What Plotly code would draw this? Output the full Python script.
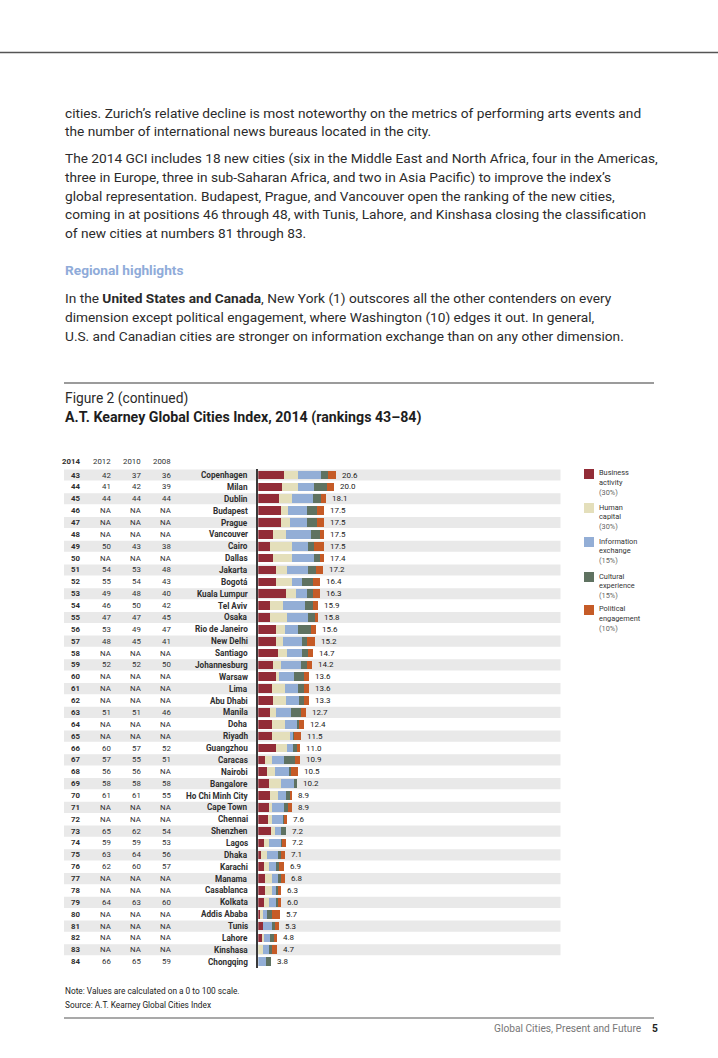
import plotly.graph_objects as go

W, H = 718, 1058

# ---------------- data ----------------
ranks = list(range(43, 85))
cities = ["Copenhagen", "Milan", "Dublin", "Budapest", "Prague", "Vancouver", "Cairo", "Dallas",
          "Jakarta", "Bogotá", "Kuala Lumpur", "Tel Aviv", "Osaka", "Rio de Janeiro", "New Delhi",
          "Santiago", "Johannesburg", "Warsaw", "Lima", "Abu Dhabi", "Manila", "Doha", "Riyadh",
          "Guangzhou", "Caracas", "Nairobi", "Bangalore", "Ho Chi Minh City", "Cape Town", "Chennai",
          "Shenzhen", "Lagos", "Dhaka", "Karachi", "Manama", "Casablanca", "Kolkata", "Addis Ababa",
          "Tunis", "Lahore", "Kinshasa", "Chongqing"]
rank_2012 = ["42", "41", "44", "NA", "NA", "NA", "50", "NA", "54", "55", "49", "46", "47", "53", "48",
             "NA", "52", "NA", "NA", "NA", "51", "NA", "NA", "60", "57", "56", "58", "61", "NA", "NA",
             "65", "59", "63", "62", "NA", "NA", "64", "NA", "NA", "NA", "NA", "66"]
rank_2010 = ["37", "42", "44", "NA", "NA", "NA", "43", "NA", "53", "54", "48", "50", "47", "49", "45",
             "NA", "52", "NA", "NA", "NA", "51", "NA", "NA", "57", "55", "56", "58", "61", "NA", "NA",
             "62", "59", "64", "60", "NA", "NA", "63", "NA", "NA", "NA", "NA", "65"]
rank_2008 = ["36", "39", "44", "NA", "NA", "NA", "38", "NA", "48", "43", "40", "42", "45", "47", "41",
             "NA", "50", "NA", "NA", "NA", "46", "NA", "NA", "52", "51", "NA", "58", "55", "NA", "NA",
             "54", "53", "56", "57", "NA", "NA", "60", "NA", "NA", "NA", "NA", "59"]
scores = [20.6, 20.0, 18.1, 17.5, 17.5, 17.5, 17.5, 17.4, 17.2, 16.4, 16.3, 15.9, 15.8, 15.6, 15.2,
          14.7, 14.2, 13.6, 13.6, 13.3, 12.7, 12.4, 11.5, 11.0, 10.9, 10.5, 10.2, 8.9, 8.9, 7.6,
          7.2, 7.2, 7.1, 6.9, 6.8, 6.3, 6.0, 5.7, 5.3, 4.8, 4.7, 3.8]
business = [6.83, 6.30, 5.50, 6.03, 6.03, 3.90, 3.11, 3.90, 4.70, 4.70, 7.36, 3.11, 3.11, 4.70, 4.70,
            5.24, 3.90, 4.70, 3.64, 3.90, 3.11, 3.64, 3.64, 4.70, 1.77, 2.31, 2.84, 3.11, 3.11, 2.57,
            3.37, 1.51, 0.71, 1.51, 1.77, 1.77, 1.51, 0.71, 1.24, 1.24, 0.0, 0.0]
human = [3.73, 4.26, 3.46, 1.86, 2.40, 3.46, 5.86, 5.06, 2.93, 4.26, 2.66, 3.46, 4.53, 2.40, 1.86,
         2.40, 2.13, 0.80, 3.46, 3.46, 1.60, 3.46, 4.79, 2.93, 1.86, 2.13, 3.19, 2.13, 0.53, 1.06,
         1.06, 1.33, 1.60, 1.33, 1.86, 1.86, 1.33, 0.53, 0.0, 0.27, 1.24, 0.0]
information = [6.12, 4.26, 5.59, 5.06, 4.53, 6.65, 4.26, 5.86, 5.59, 2.66, 2.93, 5.86, 5.59, 3.46, 5.06,
               3.99, 5.32, 3.99, 3.46, 3.46, 3.99, 3.46, 1.06, 1.60, 3.19, 3.99, 3.73, 2.13, 3.19, 3.19,
               1.60, 3.46, 3.19, 1.86, 1.86, 1.06, 1.86, 1.06, 2.66, 1.60, 1.86, 2.04]
cultural = [1.77, 3.46, 2.13, 2.66, 2.66, 2.31, 1.60, 1.60, 2.13, 2.93, 1.60, 2.13, 2.13, 3.55, 1.33,
            1.60, 1.60, 2.66, 1.60, 1.33, 2.66, 0.27, 0.10, 1.33, 2.93, 0.27, 0.53, 1.06, 1.06, 0.27,
            1.33, 0.10, 0.53, 0.80, 0.53, 0.80, 0.80, 1.33, 0.53, 1.33, 0.53, 1.33]
political = [2.13, 1.77, 1.24, 1.77, 1.77, 1.06, 2.57, 0.98, 1.86, 1.86, 1.86, 1.33, 0.53, 1.24, 2.13,
             1.33, 1.33, 1.33, 1.33, 1.33, 1.33, 1.33, 1.86, 0.53, 1.33, 1.86, 0.0, 0.53, 1.06, 0.53,
             0.0, 1.06, 1.06, 1.33, 1.06, 0.53, 0.53, 2.13, 1.06, 0.53, 1.33, 0.0]
series_names = ["Business activity", "Human capital", "Information exchange",
                "Cultural experience", "Political engagement"]
series_legend = [("Business", "activity", "(30%)"), ("Human", "capital", "(30%)"),
                 ("Information", "exchange", "(15%)"), ("Cultural", "experience", "(15%)"),
                 ("Political", "engagement", "(10%)")]
year_headers = ["2014", "2012", "2010", "2008"]

# ---------------- styles ----------------
colors = ["#922c37", "#e4dfbb", "#93aed6", "#5f7261", "#c55b27"]
FONT = "Roboto"
DARK = "#2f2f2f"


def px(x):
    return x / W


def py(y):
    return 1 - y / H


fig = go.Figure()
for name, vals, col in zip(series_names, [business, human, information, cultural, political], colors):
    fig.add_trace(go.Bar(x=vals, y=ranks, orientation="h", name=name, marker=dict(color=col, line=dict(width=0)),
                         hoverinfo="x+name"))

annotations = []
shapes = []


def text(x, y, s, size, color=DARK, bold=False, anchor="left", yref="paper", xref="paper", xshift=0):
    annotations.append(dict(x=x, y=y, xref=xref, yref=yref, text=("<b>%s</b>" % s) if bold else s,
                            showarrow=False, xanchor=anchor, yanchor="middle", xshift=xshift,
                            font=dict(family=FONT, size=size, color=color)))


BODY = 13.7
body = [
    (113, "cities. Zurich’s relative decline is most noteworthy on the metrics of performing arts events and"),
    (131, "the number of international news bureaus located in the city."),
    (158, "The 2014 GCI includes 18 new cities (six in the Middle East and North Africa, four in the Americas,"),
    (177, "three in Europe, three in sub-Saharan Africa, and two in Asia Pacific) to improve the index’s"),
    (196, "global representation. Budapest, Prague, and Vancouver open the ranking of the new cities,"),
    (214, "coming in at positions 46 through 48, with Tunis, Lahore, and Kinshasa closing the classification"),
    (233, "of new cities at numbers 81 through 83."),
    (298, "In the <b>United States and Canada</b>, New York (1) outscores all the other contenders on every"),
    (317, "dimension except political engagement, where Washington (10) edges it out. In general,"),
    (336, "U.S. and Canadian cities are stronger on information exchange than on any other dimension."),
]
for y, s in body:
    text(px(63), py(y), s, BODY, color="#2b2b2b")
text(px(63), py(270), "Regional highlights", BODY, color="#8fabd9", bold=True)

# figure header
text(px(63), py(398), "Figure 2 (continued)", 13.8, color="#2b2b2b")
text(px(63), py(417), "A.T. Kearney Global Cities Index, 2014 (rankings 43–84)", 14.2, color="#1e1e1e", bold=True)

# table
TS = 8.2
NS = 7.8
col_x = [82, 113, 142.5, 173]
for i, (hx, h) in enumerate(zip(col_x, year_headers)):
    text(px(hx), py(462), h, NS, color=DARK, bold=(i == 0), anchor="right")

for i, r in enumerate(ranks):
    vals = [str(r), rank_2012[i], rank_2010[i], rank_2008[i]]
    for j, (cx, v) in enumerate(zip(col_x, vals)):
        text(px(cx), r, v, NS, color=DARK, bold=(j == 0), anchor="right", yref="y")
    text(px(250), r, cities[i], TS, color=DARK, bold=True, anchor="right", yref="y")
    text(business[i] + human[i] + information[i] + cultural[i] + political[i], r,
         "%.1f" % scores[i], 8.0, color="#1a1a1a", anchor="left", yref="y", xref="x", xshift=4)
    if r % 2 == 1:
        shapes.append(dict(type="rect", xref="paper", yref="y", x0=px(64), x1=px(560.5),
                           y0=r - 0.47, y1=r + 0.47, fillcolor="#e9e9e9", line=dict(width=0), layer="below"))

# legend
for k, ((l1, l2, l3), col) in enumerate(zip(series_legend, colors)):
    top = [469, 503, 537, 572, 605][k]
    shapes.append(dict(type="rect", xref="paper", yref="paper", x0=px(584), x1=px(594),
                       y0=py(top + 10), y1=py(top), fillcolor=col, line=dict(width=0)))
    text(px(596.5), py(top + 4), l1, 7.4, color="#333333")
    text(px(596.5), py(top + 13), l2, 7.4, color="#333333")
    text(px(596.5), py(top + 23), l3, 7.4, color="#666666")

# notes / footer
text(px(63), py(991), "Note: Values are calculated on a 0 to 100 scale.", 8.3, color="#222222")
text(px(63), py(1005), "Source: A.T. Kearney Global Cities Index", 8.3, color="#222222")
text(px(644), py(1028), "Global Cities, Present and Future", 10.2, color="#777777", anchor="right")
text(px(650), py(1028), "5", 10.2, color="#222222", bold=True)

# rules
shapes.append(dict(type="line", xref="paper", yref="paper", x0=0, x1=1, y0=py(52.5), y1=py(52.5),
                   line=dict(color="#555555", width=1.5)))
shapes.append(dict(type="line", xref="paper", yref="paper", x0=px(64), x1=px(654), y0=py(383), y1=py(383),
                   line=dict(color="#7a7a7a", width=1.5)))
shapes.append(dict(type="line", xref="paper", yref="paper", x0=px(64), x1=px(654), y0=py(1018), y1=py(1018),
                   line=dict(color="#555555", width=1.2)))

# axes geometry
x0p, x1p = 258.3, 560.0
unit = 77.4 / 20.6
y_top, y_bot = 469.1, 967.6

fig.update_layout(
    width=W, height=H, margin=dict(l=0, r=0, t=0, b=0),
    paper_bgcolor="white", plot_bgcolor="rgba(0,0,0,0)",
    barmode="stack", bargap=0.27, showlegend=False,
    xaxis=dict(domain=[px(x0p), px(x1p)], range=[0, (x1p - x0p) / unit], visible=False, fixedrange=True),
    yaxis=dict(domain=[py(y_bot), py(y_top)], range=[84.5, 42.5], showticklabels=False, ticks="",
               showgrid=False, zeroline=False, showline=True, linecolor="#3a3a3a", linewidth=2,
               fixedrange=True),
    annotations=annotations, shapes=shapes,
    font=dict(family=FONT),
)

fig.write_html("out.html", config={"displayModeBar": False},
               post_script="document.body.style.margin='0px';document.body.style.overflow='hidden';")
